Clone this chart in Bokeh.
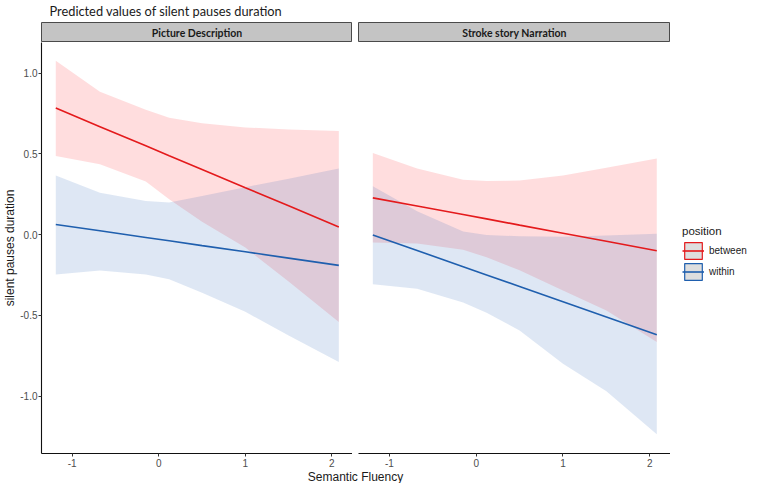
from bokeh.plotting import figure
from bokeh.models import Range1d, FixedTicker, Label, Legend, LegendItem
from bokeh.layouts import column, row
from bokeh.embed import file_html
from bokeh.resources import INLINE

# ---------------- data ----------------
panels = ["Picture Description", "Stroke story Narration"]
positions = ["between", "within"]

x_grid = [-1.19, -0.68, -0.15, 0.12, 0.5, 1.0, 1.5, 2.08]

# Picture Description
pd_between_fit = [0.784, 0.669, 0.550, 0.489, 0.404, 0.291, 0.179, 0.048]
pd_between_hi = [1.077, 0.885, 0.774, 0.724, 0.690, 0.664, 0.652, 0.642]
pd_between_lo = [0.487, 0.436, 0.330, 0.220, 0.080, -0.080, -0.290, -0.540]
pd_within_fit = [0.063, 0.024, -0.017, -0.038, -0.068, -0.106, -0.145, -0.190]
pd_within_hi = [0.366, 0.259, 0.208, 0.200, 0.240, 0.294, 0.347, 0.410]
pd_within_lo = [-0.246, -0.222, -0.246, -0.276, -0.360, -0.478, -0.625, -0.788]

# Stroke story Narration
ss_between_fit = [0.228, 0.178, 0.125, 0.098, 0.059, 0.009, -0.041, -0.099]
ss_between_hi = [0.505, 0.410, 0.340, 0.333, 0.335, 0.367, 0.415, 0.471]
ss_between_lo = [-0.048, -0.054, -0.093, -0.140, -0.220, -0.346, -0.470, -0.665]
ss_within_fit = [-0.002, -0.098, -0.198, -0.249, -0.321, -0.415, -0.510, -0.620]
ss_within_hi = [0.300, 0.145, 0.020, -0.002, -0.010, -0.013, -0.005, 0.006]
ss_within_lo = [-0.307, -0.335, -0.420, -0.483, -0.593, -0.800, -0.970, -1.236]

x_ticks = [-1, 0, 1, 2]
x_tick_labels = ["-1", "0", "1", "2"]
y_ticks = [-1.0, -0.5, 0.0, 0.5, 1.0]
y_tick_labels = ["-1.0", "-0.5", "0.0", "0.5", "1.0"]

title_text = "Predicted values of silent pauses duration"
x_title = "Semantic Fluency"
y_title = "silent pauses duration"
legend_title = "position"

# ---------------- style ----------------
RED = "#e41a1c"
BLUE = "#1f5fae"
RED_FILL = "#ff1a22"
BLUE_FILL = "#1f5fb4"
ALPHA = 0.15
TICK_FONT = "Liberation Sans"
STRIP_FONT = "Lato"
NAN = float("nan")

X_RANGE = (-1.355, 2.238)
Y_RANGE = (-1.355, 1.19)

TOTAL_W = 751
LEFT_AX = 40
FRAME_W = 312
GAP = 6
TITLE_H = 22
STRIP_H = 20
FRAME_H = 411
BOTTOM_AX = 17
XLAB_H = 13
W1 = LEFT_AX + FRAME_W
W2 = GAP + FRAME_W
W3 = TOTAL_W - W1 - W2
PANEL_H = FRAME_H + BOTTOM_AX


def blank(width, height, **kw):
    f = figure(width=width, height=height, output_backend="svg", toolbar_location=None,
               x_range=Range1d(0, 1), y_range=Range1d(0, 1), **kw)
    f.axis.visible = False
    f.grid.visible = False
    f.outline_line_color = None
    f.min_border = 0
    f.background_fill_color = None
    f.border_fill_color = "white"
    return f


def strip(label, left):
    s = blank(left + FRAME_W, STRIP_H)
    s.min_border_left = left
    s.background_fill_color = "#c4c4c4"
    s.outline_line_color = "#4a4a4a"
    s.outline_line_width = 1
    s.add_layout(Label(x=0.5, y=0.5, text=label, text_align="center", text_baseline="middle",
                       text_font=STRIP_FONT, text_font_style="bold", text_font_size="10.5px",
                       text_color="#1a1a1a"))
    return s


def style_axis(ax):
    ax.minor_tick_line_color = None
    ax.major_tick_in = 0
    ax.major_tick_out = 3
    ax.major_label_standoff = 1
    ax.major_label_text_font = TICK_FONT
    ax.major_label_text_font_size = "10px"
    ax.major_label_text_color = "#4d4d4d"
    ax.axis_line_color = "#111111"
    ax.axis_line_width = 1.1
    ax.major_tick_line_color = "#333333"


def panel(width, left, data, show_y):
    p = figure(width=width, height=PANEL_H, output_backend="svg", toolbar_location=None,
               x_range=Range1d(*X_RANGE), y_range=Range1d(*Y_RANGE))
    p.min_border_left = left
    p.min_border_right = 0
    p.min_border_top = 0
    p.min_border_bottom = BOTTOM_AX
    p.outline_line_color = None
    p.grid.visible = False
    p.background_fill_color = "white"
    p.border_fill_color = "white"

    (b_fit, b_hi, b_lo, w_fit, w_hi, w_lo) = data
    p.varea(x=x_grid, y1=b_lo, y2=b_hi, fill_color=RED_FILL, fill_alpha=ALPHA)
    p.varea(x=x_grid, y1=w_lo, y2=w_hi, fill_color=BLUE_FILL, fill_alpha=ALPHA)
    p.line(x=x_grid, y=b_fit, line_color=RED, line_width=1.6)
    p.line(x=x_grid, y=w_fit, line_color=BLUE, line_width=1.6)

    xa = p.xaxis[0]
    xa.ticker = FixedTicker(ticks=x_ticks)
    xa.major_label_overrides = {t: l for t, l in zip(x_ticks, x_tick_labels)}
    xa.axis_label = None
    style_axis(xa)
    xa.major_label_standoff = 2

    ya = p.yaxis[0]
    if show_y:
        ya.ticker = FixedTicker(ticks=y_ticks)
        ya.major_label_overrides = {t: l for t, l in zip(y_ticks, y_tick_labels)}
        style_axis(ya)
        ya.axis_label = y_title
        ya.axis_label_text_font = TICK_FONT
        ya.axis_label_text_font_size = "12px"
        ya.axis_label_text_font_style = "normal"
        ya.axis_label_text_color = "#1a1a1a"
        ya.axis_label_standoff = 0
    else:
        ya.visible = False
    return p


p1 = panel(W1, LEFT_AX, (pd_between_fit, pd_between_hi, pd_between_lo,
                         pd_within_fit, pd_within_hi, pd_within_lo), True)
p2 = panel(W2, GAP, (ss_between_fit, ss_between_hi, ss_between_lo,
                     ss_within_fit, ss_within_hi, ss_within_lo), False)
s1 = strip(panels[0], LEFT_AX)
s2 = strip(panels[1], GAP)

# legend figure (key glyphs only, no visible data)
lg = blank(W3, STRIP_H + PANEL_H)
lg.min_border_top = 203
lg.min_border_left = 12
key_b = lg.quad(left=[NAN], right=[NAN], top=[NAN], bottom=[NAN], fill_color="#dedede",
                line_color=RED, line_width=1.2)
line_b = lg.line(x=[NAN], y=[NAN], line_color=RED, line_width=1.6)
key_w = lg.quad(left=[NAN], right=[NAN], top=[NAN], bottom=[NAN], fill_color="#dedede",
                line_color=BLUE, line_width=1.2)
line_w = lg.line(x=[NAN], y=[NAN], line_color=BLUE, line_width=1.6)
legend = Legend(items=[LegendItem(label=positions[0], renderers=[key_b, line_b]),
                       LegendItem(label=positions[1], renderers=[key_w, line_w])],
                location="top_left", margin=0, padding=2, spacing=0,
                glyph_width=22, glyph_height=21, label_standoff=5,
                title=legend_title, title_text_font=TICK_FONT, title_text_font_size="11.5px",
                title_text_font_style="normal", title_text_color="#1a1a1a", title_standoff=3,
                label_text_font=TICK_FONT, label_text_font_size="10px", label_text_color="#1a1a1a",
                border_line_color=None, background_fill_alpha=0)
lg.add_layout(legend, "center")

# title and x-axis title
tf = blank(TOTAL_W, TITLE_H)
tf.add_layout(Label(x=49, y=TITLE_H - 2, x_units="screen", y_units="screen", text=title_text,
                    text_align="left", text_baseline="top", text_font="Lato",
                    text_font_size="12.8px", text_color="#1a1a1a"))

xf = blank(TOTAL_W, XLAB_H)
xf.add_layout(Label(x=LEFT_AX + (FRAME_W * 2 + GAP) / 2, y=XLAB_H / 2, x_units="screen", y_units="screen",
                    text=x_title, text_align="center", text_baseline="middle", text_font=TICK_FONT,
                    text_font_size="12px", text_color="#1a1a1a"))

layout = column(tf, row(column(s1, p1), column(s2, p2), lg), xf)

open("out.html", "w").write(file_html(layout, INLINE))
